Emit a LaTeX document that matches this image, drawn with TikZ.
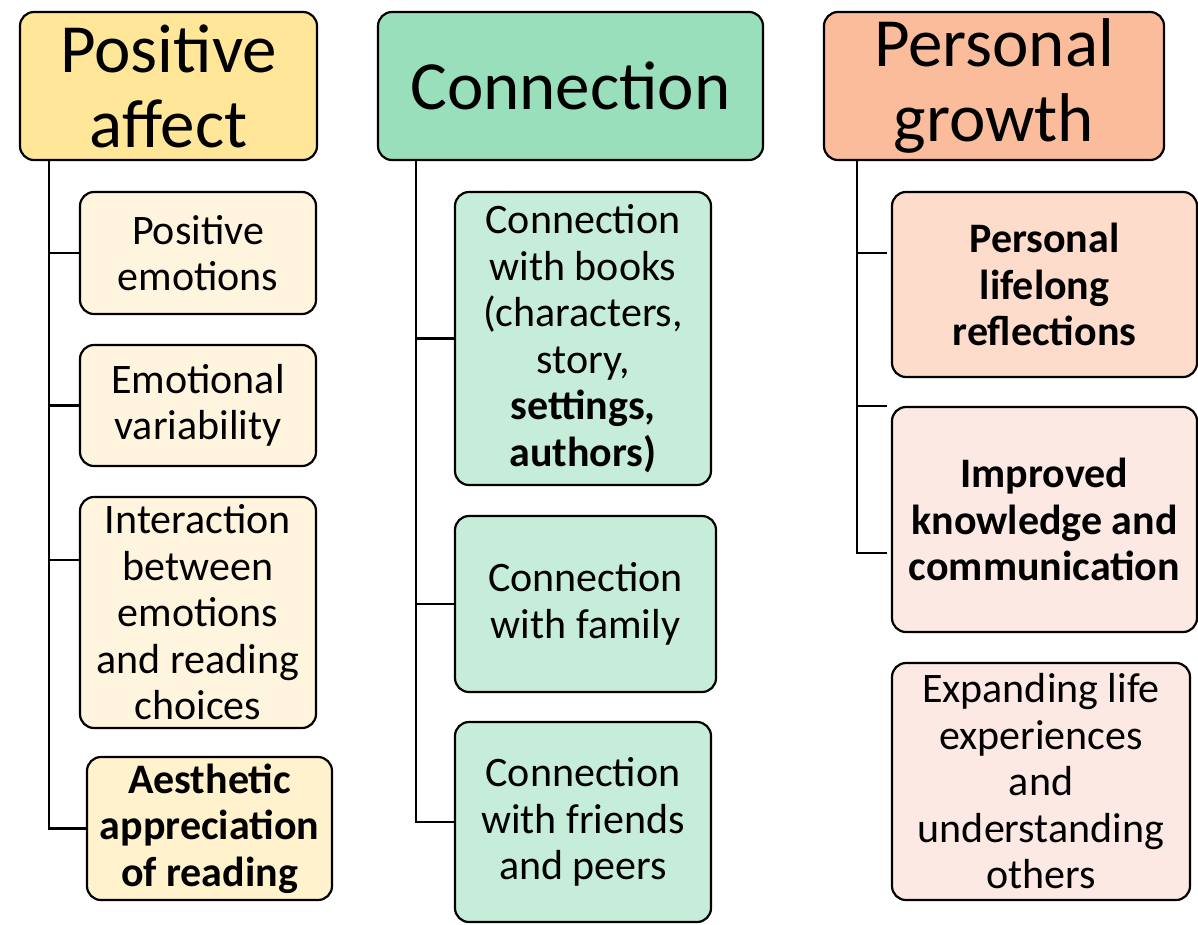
\documentclass[tikz,border=0pt]{standalone}
\usepackage{fontspec}
\setmainfont{Carlito}
\definecolor{paHead}{HTML}{FFE699}
\definecolor{paItem}{HTML}{FFF5DF}
\definecolor{paStrong}{HTML}{FFF2CC}
\definecolor{coHead}{HTML}{9ADFBB}
\definecolor{coItem}{HTML}{C6EDDA}
\definecolor{pgHead}{HTML}{FBBC9B}
\definecolor{pgStrong}{HTML}{FDDCCB}
\definecolor{pgItem}{HTML}{FCE9E3}
\tikzset{
  box/.style={draw=black, line width=2.2pt, rounded corners=14pt, align=center,
    inner sep=0pt, anchor=center},
  headbox/.style={box, font=\fontsize{69}{75}\selectfont},
  itembox/.style={box, font=\fontsize{42}{46.5}\selectfont},
  link/.style={line width=2.2pt, draw=black}
}
\begin{document}
\begin{tikzpicture}[x=1pt,y=-1pt]
\useasboundingbox (0,0) rectangle (1198,924);

% column headers
\node[headbox, fill=paHead, minimum width=297pt, minimum height=148pt] (pa) at (168.5,86) {Positive\\affect};
\node[headbox, fill=coHead, minimum width=385pt, minimum height=148pt] (co) at (570.5,86) {Connection};
\node[headbox, fill=pgHead, minimum width=340pt, minimum height=148pt] (pg) at (994,86) {Personal\\growth};

% positive affect items
\node[itembox, fill=paItem, minimum width=236pt, minimum height=122pt] (pe) at (198,253) {Positive\\emotions};
\node[itembox, fill=paItem, minimum width=236pt, minimum height=121pt] (ev) at (198,405.5) {Emotional\\variability};
\node[itembox, fill=paItem, minimum width=236pt, minimum height=231pt] (ie) at (198,612.5) {Interaction\\between\\emotions\\and reading\\choices};
\node[itembox, fill=paStrong, minimum width=245pt, minimum height=143pt] (ae) at (209.5,828.5) {\bfseries Aesthetic\\\bfseries appreciation\\\bfseries of reading};

% connection items
\node[itembox, fill=coItem, minimum width=256pt, minimum height=293pt] (cb) at (583,338.5) {Connection\\with books\\(characters,\\story,\\\bfseries settings,\\\bfseries authors)};
\node[itembox, fill=coItem, minimum width=261pt, minimum height=176pt] (cf) at (585.5,604) {Connection\\with family};
\node[itembox, fill=coItem, minimum width=256pt, minimum height=200pt] (cp) at (583,822) {Connection\\with friends\\and peers};

% personal growth items
\node[itembox, fill=pgStrong, minimum width=305pt, minimum height=185pt] (lr) at (1044.5,284.5) {\bfseries Personal\\\bfseries lifelong\\\bfseries reflections};
\node[itembox, fill=pgItem, minimum width=305pt, minimum height=225pt] (ik) at (1044.5,519.5) {\bfseries Improved\\\bfseries knowledge and\\\bfseries communication};
\node[itembox, fill=pgItem, minimum width=298pt, minimum height=237pt] (el) at (1041,781.5) {Expanding life\\experiences\\and\\understanding\\others};

% trunks hanging below each header
\coordinate (ta) at ([xshift=30pt]pa.south west);
\coordinate (tc) at ([xshift=39pt]co.south west);
\coordinate (tg) at ([xshift=34pt]pg.south west);

% positive affect branches
\coordinate (a3) at ([yshift=52.5pt]ie.west);
\draw[link] (ta) |- (ae.west);
\draw[link] (ta |- pe.west) -- (pe.west);
\draw[link] (ta |- ev.west) -- (ev.west);
\draw[link] (ta |- a3) -- (a3);

% connection branches
\draw[link] (tc) |- (cp.west);
\draw[link] (tc |- cb.west) -- (cb.west);
\draw[link] (tc |- cf.west) -- (cf.west);

% personal growth branches
\coordinate (g1) at ([xshift=-4pt,yshift=31.5pt]lr.west);
\coordinate (g2) at ([xshift=-4pt,yshift=113.5pt]ik.west);
\coordinate (g3) at ([xshift=-4pt,yshift=-33.5pt]ik.west);
\draw[link] (tg) |- (g3);
\draw[link] (tg |- g1) -- (g1);
\draw[link] (tg |- g2) -- (g2);
\end{tikzpicture}
\end{document}
